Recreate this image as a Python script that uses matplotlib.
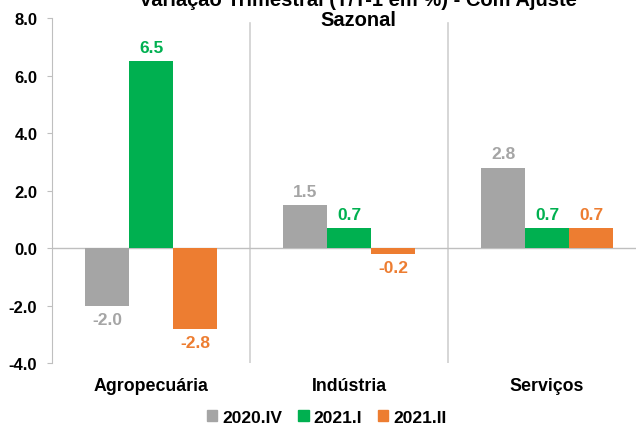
import numpy as np
import matplotlib.pyplot as plt
from matplotlib.patches import Patch

plt.rcParams['font.family'] = ['Liberation Sans', 'DejaVu Sans']
plt.rcParams['font.weight'] = 'bold'

categories = ['Agropecuária', 'Indústria', 'Serviços']
series = ['2020.IV', '2021.I', '2021.II']
v_2020_iv = [-2.0, 1.5, 2.8]
v_2021_i = [6.5, 0.7, 0.7]
v_2021_ii = [-2.8, -0.2, 0.7]
yticks = [-4.0, -2.0, 0.0, 2.0, 4.0, 6.0, 8.0]

colors = ['#A5A5A5', '#00B050', '#ED7D31']
values = [v_2020_iv, v_2021_i, v_2021_ii]

fig = plt.figure(figsize=(6.36, 4.27), dpi=100)
ax = fig.add_axes([0.0818, 0.1475, 0.934, 0.808])

x = np.arange(len(categories))
w = 0.222
for i, (vals, c) in enumerate(zip(values, colors)):
    xs = x + (i - 1) * w
    ax.bar(xs, vals, width=w, color=c, zorder=3)
    for xi, v in zip(xs, vals):
        off = 4.5 if v >= 0 else -4.5
        ax.annotate('%.1f' % v, (xi, v), xytext=(0, off), textcoords='offset points',
                    ha='center', va='bottom' if v >= 0 else 'top',
                    color=c, fontsize=12.5, fontweight='bold')

ax.set_xlim(-0.5, 2.5)
ax.set_ylim(-4, 8)
ax.set_yticks(yticks)
ax.set_yticklabels(['%.1f' % t for t in yticks], fontsize=12, fontweight='bold')
ax.set_xticks(x)
ax.set_xticklabels(categories, fontsize=12.8, fontweight='bold')
ax.tick_params(axis='x', length=0, pad=10)
ax.tick_params(axis='y', length=3.6, color='#BFBFBF', pad=7)

for s in ['top', 'right', 'bottom']:
    ax.spines[s].set_visible(False)
ax.spines['left'].set_color('#BFBFBF')
ax.axhline(0, color='#BFBFBF', lw=1, zorder=2)
for b in [0.5, 1.5]:
    ax.axvline(b, color='#D0D0D0', lw=1.2, ymax=0.985, zorder=1)

fig.text(0.563, 0.975, 'Variação Trimestral (T/T-1 em %) - Com Ajuste\nSazonal',
         ha='center', va='center', fontsize=14.5, fontweight='bold', linespacing=1.05)

handles = [Patch(color=c) for c in colors]
fig.legend(handles, series, loc='center', bbox_to_anchor=(0.514, 0.02), ncol=3,
           frameon=False, fontsize=12.5, handlelength=0.6, handleheight=0.6,
           handletextpad=0.3, columnspacing=0.9)

fig.savefig('out.png', dpi=100)
